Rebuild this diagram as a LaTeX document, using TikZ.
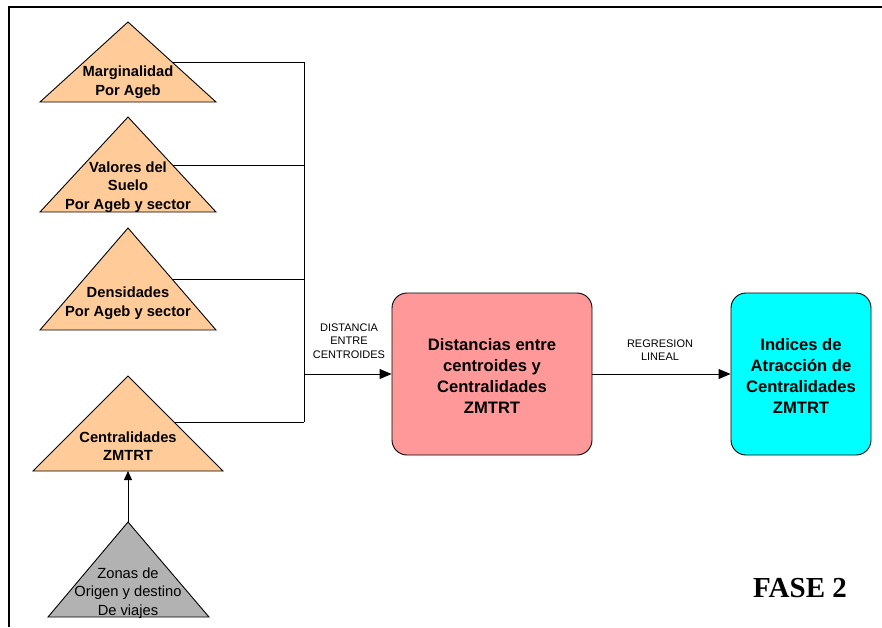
\documentclass[tikz,border=0pt]{standalone}
\usepackage{fontspec}
\setmainfont{Liberation Sans}
\newfontfamily\serifbold{Liberation Serif}
\usetikzlibrary{arrows.meta}
\definecolor{peach}{HTML}{FFCC99}
\definecolor{greytri}{HTML}{B2B2B2}
\definecolor{pinkbox}{HTML}{FF9999}
\definecolor{cyanbox}{HTML}{00FFFF}
\tikzset{
  tri/.style={draw=black, line width=0.9pt, line join=miter},
  trilabel/.style={align=center, inner sep=0pt, font=\fontsize{14.7}{18.5}\selectfont\bfseries},
  plainlabel/.style={align=center, inner sep=0pt, font=\fontsize{14.7}{18.5}\selectfont},
  boxlabel/.style={align=center, inner sep=0pt, font=\fontsize{16.6}{20.7}\selectfont\bfseries},
  smalllabel/.style={align=center, inner sep=0pt, font=\fontsize{11}{13.5}\selectfont},
  roundbox/.style={draw=black, line width=0.9pt, rounded corners=15pt},
  link/.style={draw=black, line width=0.9pt},
  arrowlink/.style={link, -{Triangle[length=12pt,width=10pt]}},
  smallarrow/.style={link, -{Triangle[length=9pt,width=8pt]}}
}
\begin{document}
\begin{tikzpicture}[x=1pt, y=-1pt]
\useasboundingbox (0,0) rectangle (882,627);
% frame edges
\draw[line width=1.6pt] (9,627) -- (9,7) -- (882,7);

% input triangles
\draw[tri, fill=peach] (128,22) -- (216,102) -- (40,102) -- cycle;
\draw[tri, fill=peach] (128,117) -- (216,212) -- (40,212) -- cycle;
\draw[tri, fill=peach] (128,228) -- (216,330) -- (40,330) -- cycle;
\draw[tri, fill=peach] (128,376) -- (223,471) -- (33,471) -- cycle;
\draw[tri, fill=greytri] (128,522) -- (209,617) -- (48,617) -- cycle;

\node[trilabel] (marg) at (128,82) {Marginalidad\\Por Ageb};
\node[trilabel] (valores) at (128,187) {Valores del\\Suelo\\Por Ageb y sector};
\node[trilabel] (dens) at (128,303) {Densidades\\Por Ageb y sector};
\node[trilabel] (central) at (128,446) {Centralidades\\ZMTRT};
\node[plainlabel] (zonas) at (128,593) {Zonas de\\Origen y destino\\De viajes};

% connector anchors on the triangle edges
\coordinate (m1) at (172,62);
\coordinate (v1) at (172.5,165);
\coordinate (d1) at (172,279);
\coordinate (c1) at (174.5,422);
\coordinate (cbase) at (128,471);
\coordinate (zapex) at (128,522);
\coordinate (busTop) at (304,62);
\coordinate (busV) at (304,165);
\coordinate (busD) at (304,279);
\coordinate (busMid) at (304,374);
\coordinate (busBot) at (304,422);

% result boxes
\node[roundbox, fill=pinkbox, minimum width=200pt, minimum height=162pt] (dist) at (492,374) {};
\node[boxlabel] at (492,376) {Distancias entre\\centroides y\\Centralidades\\ZMTRT};
\node[roundbox, fill=cyanbox, minimum width=140pt, minimum height=162pt] (indices) at (801,374) {};
\node[boxlabel] at (801,376) {Indices de\\Atracción de\\Centralidades\\ZMTRT};

% connectors
\draw[link] (m1) -- (busTop);
\draw[link] (v1) -- (busV);
\draw[link] (d1) -- (busD);
\draw[link] (c1) -- (busBot);
\draw[link] (busTop) -- (busBot);
\draw[arrowlink] (busMid) -- (dist.west);
\draw[arrowlink] (dist.east) -- (indices.west);
\draw[smallarrow] (zapex) -- (cbase);

% connector labels
\node[smalllabel] (lbldist) at (349,341) {DISTANCIA\\ENTRE\\CENTROIDES};
\node[smalllabel] (lblreg) at (660,350) {REGRESION\\LINEAL};

% phase title
\node[inner sep=0pt, font=\serifbold\fontsize{29}{32}\selectfont\bfseries] (fase) at (800,588) {FASE 2};
\end{tikzpicture}
\end{document}
